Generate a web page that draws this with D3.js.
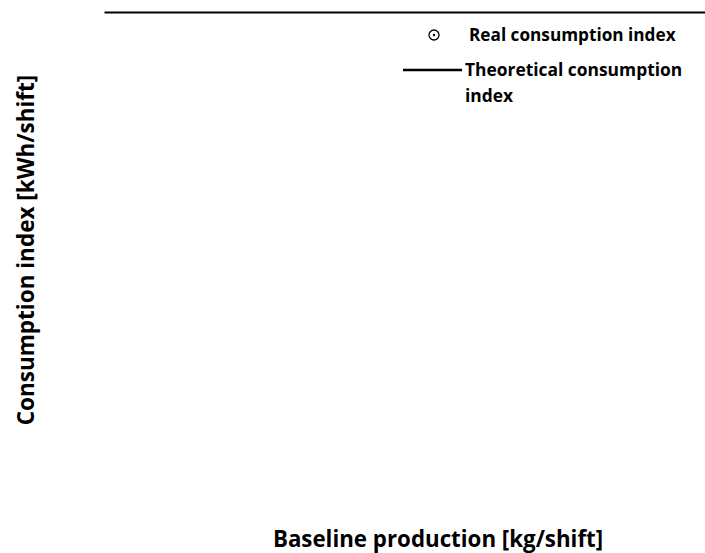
<!DOCTYPE html>
<html>
<head>
<meta charset="utf-8">
<script src="https://cdn.jsdelivr.net/npm/d3@7"></script>
<style>
  body { margin: 0; background: #fff; }
  text { font-family: "Open Sans", sans-serif; font-weight: bold; fill: #000; }
</style>
</head>
<body>
<script>
// chart data (the reference shows no plotted marks)
const production = [];
const realIndex = [];
const theoreticalIndex = [];
const legendLabels = ["Real consumption index", "Theoretical consumption index"];
const xTitle = "Baseline production [kg/shift]";
const yTitle = "Consumption index [kWh/shift]";

const width = 705;
const height = 553;
const svg = d3.select("body").append("svg")
    .attr("width", width)
    .attr("height", height);

const x = d3.scaleLinear().domain([0, 1]).range([104, 705]);
const y = d3.scaleLinear().domain([0, 1]).range([500, 12]);

// top frame line
svg.append("g")
    .attr("transform", "translate(0,12)")
    .call(d3.axisTop(x).tickValues([]).tickSizeOuter(0))
    .select(".domain")
    .attr("stroke", "#000")
    .attr("stroke-width", 2);

// points and line (no data in the reference)
svg.selectAll("circle.pt")
    .data(realIndex.map((v, i) => [production[i], v]))
    .join("circle")
    .attr("class", "pt")
    .attr("cx", d => x(d[0]))
    .attr("cy", d => y(d[1]))
    .attr("r", 4)
    .attr("fill", "none")
    .attr("stroke", "#000");

svg.append("path")
    .datum(theoreticalIndex.map((v, i) => [production[i], v]))
    .attr("fill", "none")
    .attr("stroke", "#000")
    .attr("stroke-width", 2)
    .attr("d", d3.line().x(d => x(d[0])).y(d => y(d[1])));

// legend
const leg = svg.append("g");
leg.append("circle").attr("cx", 434).attr("cy", 35).attr("r", 5)
    .attr("fill", "none").attr("stroke", "#000").attr("stroke-width", 1.3);
leg.append("circle").attr("cx", 434).attr("cy", 35).attr("r", 1.2).attr("fill", "#000");
leg.append("text").attr("x", 469).attr("y", 41).attr("font-size", 17.2).text(legendLabels[0]);

leg.append("line").attr("x1", 403).attr("x2", 462).attr("y1", 70).attr("y2", 70)
    .attr("stroke", "#000").attr("stroke-width", 2.4);
const t2 = leg.append("text").attr("x", 465).attr("y", 76).attr("font-size", 17.4);
t2.append("tspan").attr("x", 465).text("Theoretical consumption");
t2.append("tspan").attr("x", 465).attr("dy", 26).text("index");

// axis titles
svg.append("text")
    .attr("x", 438).attr("y", 547)
    .attr("text-anchor", "middle")
    .attr("font-size", 22.3)
    .text(xTitle);

svg.append("text")
    .attr("transform", "translate(34,250) rotate(-90)")
    .attr("text-anchor", "middle")
    .attr("font-size", 22.5)
    .text(yTitle);
</script>
</body>
</html>
